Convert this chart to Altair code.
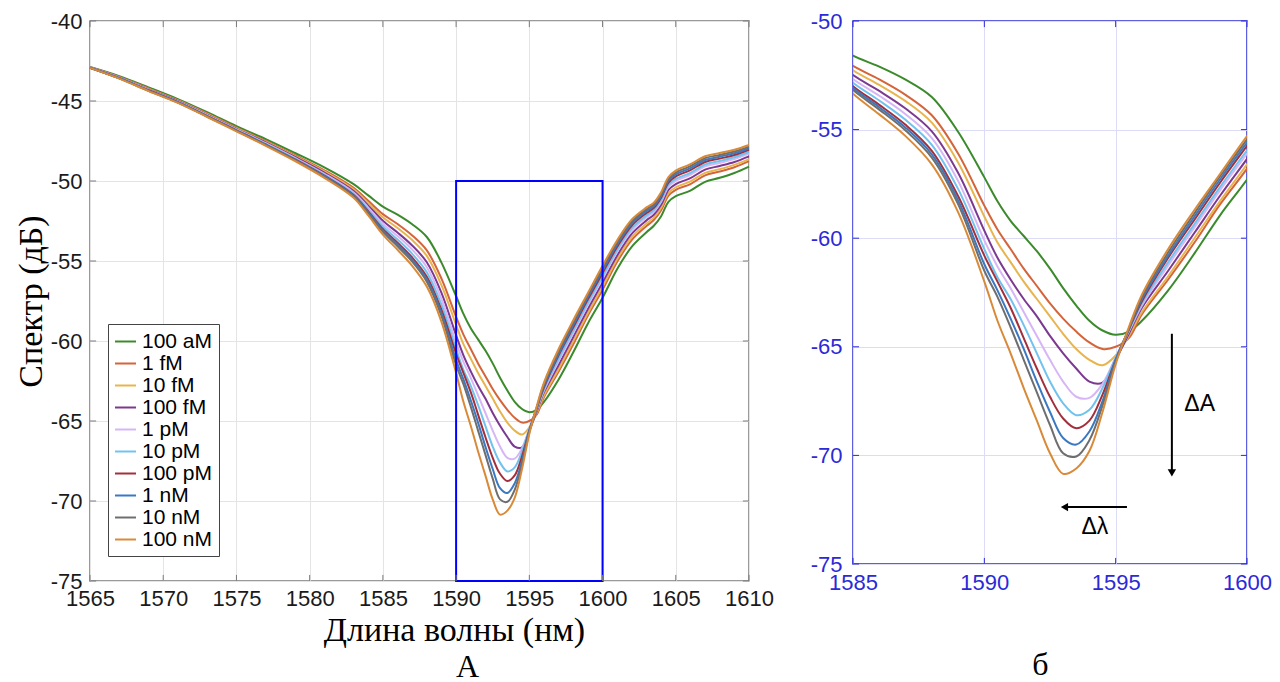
import altair as alt
import pandas as pd

# ---------------- data ----------------
wavelength = [1565, 1567, 1569, 1571, 1573, 1575, 1577, 1579, 1581, 1583, 1584,
              1585, 1586, 1587, 1588, 1589, 1590,
              1590.5, 1591, 1591.5, 1592, 1592.5, 1593, 1593.5, 1594, 1594.5, 1595, 1595.5, 1596,
              1597, 1598, 1599, 1600,
              1601, 1602, 1603, 1603.5, 1604, 1604.5, 1605, 1606, 1607, 1608, 1609, 1610]

s_100aM = [-42.88, -43.45, -44.15, -44.88, -45.7, -46.57, -47.38, -48.25, -49.15, -50.2, -50.9,
           -51.6, -52.1, -52.7, -53.5, -55.1, -57.2,
           -58.3, -59.2, -59.9, -60.6, -61.4, -62.3, -63.1, -63.8, -64.25, -64.45, -64.3, -63.8,
           -62.4, -60.7, -58.9, -57.3,
           -55.5, -54.1, -53.2, -52.8, -52.2, -51.3, -50.95, -50.6, -50.05, -49.8, -49.5, -49.1]
s_1fM = [-42.89, -43.49, -44.21, -44.95, -45.78, -46.66, -47.49, -48.39, -49.33, -50.43, -51.24,
         -52.07, -52.69, -53.4, -54.34, -56.1, -58.5,
         -59.6, -60.5, -61.4, -62.2, -63.0, -63.7, -64.3, -64.8, -65.1, -65.0, -64.6, -63.5,
         -61.9, -60.2, -58.4, -56.8,
         -55.05, -53.68, -52.81, -52.44, -51.83, -50.91, -50.55, -50.19, -49.65, -49.41, -49.14, -48.76]
s_10fM = [-42.9, -43.51, -44.24, -44.97, -45.81, -46.7, -47.54, -48.44, -49.4, -50.52, -51.38,
          -52.27, -52.94, -53.69, -54.68, -56.51, -59.0,
          -60.2, -61.1, -62.0, -62.8, -63.6, -64.4, -65.1, -65.6, -65.85, -65.4, -64.5, -63.4,
          -61.75, -60.0, -58.25, -56.6,
          -54.87, -53.5, -52.66, -52.29, -51.67, -50.76, -50.39, -50.02, -49.49, -49.26, -48.99, -48.63]
s_100fM = [-42.91, -43.53, -44.27, -45.0, -45.85, -46.74, -47.59, -48.5, -49.48, -50.63, -51.54,
           -52.49, -53.22, -54.03, -55.08, -56.99, -59.65,
           -60.9, -61.9, -62.8, -63.6, -64.5, -65.3, -66.0, -66.6, -66.65, -65.6, -64.4, -63.2,
           -61.5, -59.75, -58.0, -56.35,
           -54.65, -53.29, -52.46, -52.11, -51.49, -50.56, -50.19, -49.82, -49.29, -49.06, -48.81, -48.46]
s_1pM = [-42.91, -43.54, -44.29, -45.03, -45.88, -46.77, -47.64, -48.56, -49.55, -50.72, -51.66,
         -52.67, -53.44, -54.29, -55.39, -57.36, -60.1,
         -61.3, -62.3, -63.4, -64.5, -65.6, -66.6, -67.3, -67.35, -66.7, -65.5, -64.3, -63.1,
         -61.25, -59.5, -57.75, -56.1,
         -54.42, -53.08, -52.27, -51.93, -51.3, -50.37, -49.99, -49.61, -49.09, -48.87, -48.63, -48.29]
s_10pM = [-42.92, -43.56, -44.31, -45.05, -45.91, -46.8, -47.68, -48.6, -49.61, -50.8, -51.79,
          -52.84, -53.66, -54.55, -55.7, -57.73, -60.5,
          -61.8, -62.8, -64.0, -65.3, -66.6, -67.6, -68.15, -67.9, -66.9, -65.5, -64.25, -63.0,
          -61.1, -59.35, -57.6, -55.95,
          -54.29, -52.95, -52.15, -51.82, -51.19, -50.25, -49.87, -49.49, -48.97, -48.75, -48.52, -48.19]
s_100pM = [-42.92, -43.57, -44.33, -45.07, -45.94, -46.83, -47.72, -48.65, -49.67, -50.88, -51.9,
           -53.0, -53.86, -54.78, -55.98, -58.06, -60.8,
           -62.0, -63.2, -64.6, -66.0, -67.3, -68.3, -68.75, -68.4, -67.2, -65.6, -64.2, -62.9,
           -60.9, -59.15, -57.4, -55.75,
           -54.11, -52.78, -52.0, -51.68, -51.04, -50.1, -49.71, -49.32, -48.81, -48.6, -48.38, -48.05]
s_1nM = [-42.92, -43.58, -44.35, -45.08, -45.96, -46.85, -47.74, -48.68, -49.7, -50.92, -51.96,
         -53.09, -53.97, -54.91, -56.14, -58.25, -61.2,
         -62.4, -63.7, -65.1, -66.6, -68.0, -69.2, -69.5, -68.9, -67.5, -65.6, -64.2, -62.8,
         -60.8, -59.0, -57.25, -55.6,
         -53.97, -52.66, -51.88, -51.57, -50.93, -49.98, -49.59, -49.2, -48.69, -48.48, -48.27, -47.95]
s_10nM = [-42.93, -43.59, -44.36, -45.1, -45.97, -46.87, -47.76, -48.7, -49.74, -50.97, -52.03,
          -53.18, -54.08, -55.04, -56.29, -58.43, -61.5,
          -62.7, -64.1, -65.6, -67.1, -68.6, -69.9, -70.05, -69.3, -67.7, -65.7, -64.2, -62.7,
          -60.65, -58.85, -57.1, -55.45,
          -53.84, -52.53, -51.77, -51.46, -50.81, -49.87, -49.47, -49.07, -48.57, -48.37, -48.16, -47.85]
s_100nM = [-42.93, -43.6, -44.38, -45.12, -46.0, -46.9, -47.8, -48.75, -49.8, -51.05, -52.15,
           -53.35, -54.3, -55.3, -56.6, -58.8, -62.0,
           -63.8, -65.3, -66.9, -68.4, -69.9, -70.85, -70.6, -69.8, -68.0, -65.8, -64.1, -62.6,
           -60.5, -58.7, -57.0, -55.3,
           -53.7, -52.4, -51.65, -51.35, -50.7, -49.75, -49.35, -48.95, -48.45, -48.25, -48.05, -47.75]

series_labels = ["100 aM", "1 fM", "10 fM", "100 fM", "1 pM",
                 "10 pM", "100 pM", "1 nM", "10 nM", "100 nM"]
series_values = [s_100aM, s_1fM, s_10fM, s_100fM, s_1pM,
                 s_10pM, s_100pM, s_1nM, s_10nM, s_100nM]
series_colors = ["#3B8A2C", "#D4643A", "#E8B44E", "#7B3990", "#D6B6F6",
                 "#72C2EE", "#A2303C", "#3B78C2", "#6E6E6E", "#D88A38"]

x_ticks_a = [1565, 1570, 1575, 1580, 1585, 1590, 1595, 1600, 1605, 1610]
y_ticks_a = [-75, -70, -65, -60, -55, -50, -45, -40]
x_ticks_b = [1585, 1590, 1595, 1600]
y_ticks_b = [-75, -70, -65, -60, -55, -50]

box_x = [1590, 1600]
box_y = [-75, -50]

rows = []
for k, (lab, vals) in enumerate(zip(series_labels, series_values)):
    for w, v in zip(wavelength, vals):
        rows.append({"wl": w, "val": v, "series": lab, "k": k})
df = pd.DataFrame(rows)

SANS = "Liberation Sans"
SERIF = "Liberation Serif"
FRAME_A = "#7a7a7a"
BLUE = "#2a2ad8"
LABEL_EXPR = "'' + datum.value"

# ---------------- panel A ----------------
xa_dom = [x_ticks_a[0], x_ticks_a[-1]]
ya_dom = [y_ticks_a[0], y_ticks_a[-1]]

color_scale = alt.Scale(domain=series_labels, range=series_colors)

lines_a = alt.Chart(df).mark_line(strokeWidth=2, interpolate="catmull-rom").encode(
    x=alt.X("wl:Q", scale=alt.Scale(domain=xa_dom, nice=False, zero=False),
            axis=alt.Axis(values=x_ticks_a, title="Длина волны (нм)", labelFont=SANS,
                          labelFontSize=22, labelColor="#1a1a1a", labelPadding=7,
                          labelExpr=LABEL_EXPR,
                          ticks=False, domain=False, grid=True, gridColor="#E4E4E4",
                          labelFlush=False, labelOverlap=False,
                          titleFont=SERIF, titleFontSize=34, titleFontWeight="normal",
                          titleColor="black", titlePadding=4, titleX=364)),
    y=alt.Y("val:Q", scale=alt.Scale(domain=ya_dom, nice=False, zero=False),
            axis=alt.Axis(values=y_ticks_a, title="Спектр (дБ)", labelFont=SANS,
                          labelFontSize=22, labelColor="#1a1a1a", labelPadding=8,
                          labelExpr=LABEL_EXPR,
                          ticks=False, domain=False, grid=True, gridColor="#E4E4E4",
                          labelFlush=False, labelOverlap=False,
                          titleFont=SERIF, titleFontSize=34, titleFontWeight="normal",
                          titleColor="black", titlePadding=2)),
    color=alt.Color("series:N", scale=color_scale, sort=series_labels,
                    legend=alt.Legend(title=None, orient="none", legendX=18, legendY=303,
                                      symbolType="stroke", symbolSize=441, symbolStrokeWidth=2,
                                      labelFont=SANS, labelFontSize=21, labelColor="black",
                                      strokeColor="#444", fillColor="white", padding=6,
                                      rowPadding=0, labelOffset=5)),
    order="k:Q",
)

box_df = pd.DataFrame({"x": [box_x[0]], "x2": [box_x[1]], "y": [box_y[0]], "y2": [box_y[1]]})
box = alt.Chart(box_df).mark_rect(fillOpacity=0, stroke="#0000FF", strokeWidth=2).encode(
    x="x:Q", x2="x2:Q", y="y:Q", y2="y2:Q")


def tick_layers(xt, yt, xdom, ydom, lx, ly, color):
    bt = pd.DataFrame({"x": xt, "y": [ydom[0]] * len(xt), "y2": [ydom[0] + ly] * len(xt)})
    tt = pd.DataFrame({"x": xt, "y": [ydom[1]] * len(xt), "y2": [ydom[1] - ly] * len(xt)})
    lt = pd.DataFrame({"y": yt, "x": [xdom[0]] * len(yt), "x2": [xdom[0] + lx] * len(yt)})
    rt = pd.DataFrame({"y": yt, "x": [xdom[1]] * len(yt), "x2": [xdom[1] - lx] * len(yt)})
    out = []
    for d in (bt, tt):
        out.append(alt.Chart(d).mark_rule(color=color, strokeWidth=1).encode(
            x="x:Q", y="y:Q", y2="y2:Q"))
    for d in (lt, rt):
        out.append(alt.Chart(d).mark_rule(color=color, strokeWidth=1).encode(
            x="x:Q", x2="x2:Q", y="y:Q"))
    return out


ticks_a = tick_layers(x_ticks_a, y_ticks_a, xa_dom, ya_dom, 0.42, 0.38, FRAME_A)

panel_a = alt.layer(lines_a, box, *ticks_a).properties(
    width=659, height=560,
    view=alt.ViewBackground(stroke=FRAME_A, strokeWidth=1.5),
    title=alt.TitleParams(text="А", orient="bottom", font=SERIF, fontSize=32,
                          fontWeight="normal", color="black", dx=48, offset=5),
)

# ---------------- panel б ----------------
xb_dom = [x_ticks_b[0], x_ticks_b[-1]]
yb_dom = [y_ticks_b[0], y_ticks_b[-1]]

lines_b = alt.Chart(df).mark_line(strokeWidth=2, interpolate="catmull-rom", clip=True).encode(
    x=alt.X("wl:Q", scale=alt.Scale(domain=xb_dom, nice=False, zero=False),
            axis=alt.Axis(values=x_ticks_b, title="б", labelFont=SANS,
                          labelFontSize=22, labelColor=BLUE, labelPadding=8,
                          labelExpr=LABEL_EXPR,
                          ticks=False, domain=False, grid=True, gridColor="#DCDCF6",
                          labelFlush=False, labelOverlap=False,
                          titleFont=SERIF, titleFontSize=32, titleFontWeight="normal",
                          titleColor="black", titlePadding=56, titleX=187)),
    y=alt.Y("val:Q", scale=alt.Scale(domain=yb_dom, nice=False, zero=False),
            axis=alt.Axis(values=y_ticks_b, title=None, labelFont=SANS,
                          labelFontSize=22, labelColor=BLUE, labelPadding=11,
                          labelExpr=LABEL_EXPR,
                          ticks=False, domain=False, grid=True, gridColor="#DCDCF6",
                          labelFlush=False, labelOverlap=False)),
    color=alt.Color("series:N", scale=color_scale, sort=series_labels, legend=None),
    order="k:Q",
)

ticks_b = tick_layers(x_ticks_b, y_ticks_b, xb_dom, yb_dom, 0.23, 0.28, BLUE)

# annotations (ΔA and Δλ arrows)
arrow_a = {"x": 1597.14, "y_top": -64.4, "y_tip": -71.1}
arrow_l = {"y": -72.38, "x_start": 1595.43, "x_tip": 1592.8}

va_df = pd.DataFrame({"x": [arrow_a["x"]], "y": [arrow_a["y_top"]], "y2": [arrow_a["y_tip"] + 0.3]})
va = alt.Chart(va_df).mark_rule(color="black", strokeWidth=2).encode(x="x:Q", y="y:Q", y2="y2:Q")
vh_df = pd.DataFrame({"x": [arrow_a["x"]], "y": [arrow_a["y_tip"] + 0.3]})
vh = alt.Chart(vh_df).mark_point(shape="triangle-down", filled=True, color="black",
                                 size=70, opacity=1).encode(x="x:Q", y="y:Q")
ha_df = pd.DataFrame({"x": [arrow_l["x_start"]], "x2": [arrow_l["x_tip"] + 0.25], "y": [arrow_l["y"]]})
ha = alt.Chart(ha_df).mark_rule(color="black", strokeWidth=2).encode(x="x:Q", x2="x2:Q", y="y:Q")
hh_df = pd.DataFrame({"x": [arrow_l["x_tip"] + 0.25], "y": [arrow_l["y"]]})
hh = alt.Chart(hh_df).mark_point(shape="triangle-left", filled=True, color="black",
                                 size=70, opacity=1).encode(x="x:Q", y="y:Q")

lab_df = pd.DataFrame({"x": [1598.2, 1594.21], "y": [-67.63, -73.3], "t": ["ΔA", "Δλ"]})
labs = alt.Chart(lab_df).mark_text(font=SANS, fontSize=23, color="black").encode(
    x="x:Q", y="y:Q", text="t:N")

panel_b = alt.layer(lines_b, *ticks_b, va, vh, ha, hh, labs).properties(
    width=394, height=543,
    view=alt.ViewBackground(stroke=BLUE, strokeWidth=1.5),
)

chart = alt.hconcat(panel_a, panel_b, spacing=34).resolve_scale(color="independent").properties(
    padding={"left": 13, "top": 9, "right": 5, "bottom": 0},
    background="white",
)

chart.save("out.html", embed_options={"renderer": "svg", "actions": False})
